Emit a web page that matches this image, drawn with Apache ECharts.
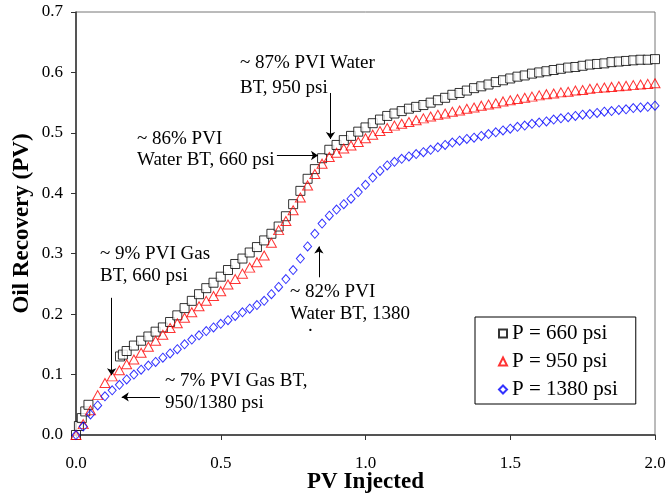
<!DOCTYPE html>
<html>
<head>
<meta charset="utf-8">
<script src="https://cdn.jsdelivr.net/npm/echarts@6/dist/echarts.min.js"></script>
<style>
  html, body { margin: 0; padding: 0; background: #fff; }
  #chart { width: 668px; height: 499px; }
</style>
</head>
<body>
<div id="chart"></div>
<script>
// Pore volumes injected shared by the 950 and 1380 psi runs
const pvGrid = [0, 0.025, 0.05, 0.075, 0.1, 0.125, 0.15, 0.175, 0.2, 0.225, 0.25, 0.275, 0.3, 0.325, 0.35, 0.375,
  0.4, 0.425, 0.45, 0.475, 0.5, 0.525, 0.55, 0.575, 0.6, 0.625, 0.65, 0.675, 0.7, 0.725, 0.75, 0.775,
  0.8, 0.825, 0.85, 0.875, 0.9, 0.925, 0.95, 0.975, 1.0, 1.025, 1.05, 1.075, 1.1, 1.125, 1.15, 1.175,
  1.2, 1.225, 1.25, 1.275, 1.3, 1.325, 1.35, 1.375, 1.4, 1.425, 1.45, 1.475, 1.5, 1.525, 1.55, 1.575,
  1.6, 1.625, 1.65, 1.675, 1.7, 1.725, 1.75, 1.775, 1.8, 1.825, 1.85, 1.875, 1.9, 1.925, 1.95, 1.975, 2.0];

// P = 660 psi (no readings between gas breakthrough and ~0.15 PV)
const pv660 = [0, 0.01, 0.02, 0.032, 0.043, 0.152, 0.162, 0.175, 0.2, 0.225, 0.25, 0.275, 0.3, 0.325, 0.35, 0.375,
  0.4, 0.425, 0.45, 0.475, 0.5, 0.525, 0.55, 0.575, 0.6, 0.625, 0.65, 0.675, 0.7, 0.725, 0.75, 0.775,
  0.8, 0.825, 0.85, 0.875, 0.9, 0.925, 0.95, 0.975, 1.0, 1.025, 1.05, 1.075, 1.1, 1.125, 1.15, 1.175,
  1.2, 1.225, 1.25, 1.275, 1.3, 1.325, 1.35, 1.375, 1.4, 1.425, 1.45, 1.475, 1.5, 1.525, 1.55, 1.575,
  1.6, 1.625, 1.65, 1.675, 1.7, 1.725, 1.75, 1.775, 1.8, 1.825, 1.85, 1.875, 1.9, 1.925, 1.95, 1.975, 2.0];
const rec660 = [0, 0.015, 0.028, 0.039, 0.050, 0.130, 0.133, 0.139, 0.148, 0.156, 0.163, 0.171, 0.178, 0.187, 0.198, 0.210,
  0.222, 0.233, 0.243, 0.252, 0.262, 0.273, 0.283, 0.292, 0.302, 0.311, 0.322, 0.333, 0.345, 0.362, 0.382, 0.404,
  0.424, 0.440, 0.458, 0.472, 0.480, 0.488, 0.495, 0.502, 0.509, 0.516, 0.522, 0.528, 0.532, 0.536, 0.540, 0.543,
  0.546, 0.550, 0.554, 0.558, 0.563, 0.566, 0.570, 0.574, 0.577, 0.580, 0.584, 0.587, 0.590, 0.593, 0.595, 0.598,
  0.600, 0.602, 0.604, 0.606, 0.608, 0.609, 0.611, 0.613, 0.614, 0.615, 0.617, 0.618, 0.619, 0.620, 0.621, 0.621, 0.622];

// P = 950 psi
const rec950 = [0, 0.018, 0.041, 0.066, 0.086, 0.097, 0.107, 0.117, 0.125, 0.136, 0.146, 0.156, 0.166, 0.177, 0.185, 0.194,
  0.203, 0.213, 0.222, 0.230, 0.238, 0.249, 0.258, 0.267, 0.277, 0.286, 0.297, 0.318, 0.339, 0.354, 0.372, 0.393,
  0.413, 0.432, 0.449, 0.460, 0.467, 0.474, 0.479, 0.485, 0.491, 0.497, 0.503, 0.508, 0.512, 0.515, 0.518, 0.521,
  0.524, 0.527, 0.530, 0.532, 0.535, 0.537, 0.540, 0.542, 0.545, 0.547, 0.549, 0.552, 0.554, 0.556, 0.558, 0.560,
  0.562, 0.564, 0.565, 0.567, 0.568, 0.570, 0.571, 0.573, 0.574, 0.575, 0.576, 0.577, 0.578, 0.579, 0.580, 0.581, 0.582];

// P = 1380 psi
const rec1380 = [0, 0.014, 0.034, 0.049, 0.064, 0.074, 0.083, 0.092, 0.100, 0.108, 0.115, 0.121, 0.128, 0.135, 0.142, 0.150,
  0.158, 0.165, 0.172, 0.178, 0.184, 0.190, 0.197, 0.203, 0.209, 0.215, 0.222, 0.233, 0.245, 0.258, 0.273, 0.292,
  0.312, 0.333, 0.350, 0.363, 0.373, 0.382, 0.391, 0.402, 0.414, 0.426, 0.437, 0.446, 0.452, 0.457, 0.461, 0.465,
  0.468, 0.472, 0.476, 0.480, 0.484, 0.487, 0.490, 0.492, 0.495, 0.498, 0.501, 0.504, 0.507, 0.510, 0.512, 0.515,
  0.517, 0.519, 0.522, 0.524, 0.526, 0.528, 0.530, 0.531, 0.533, 0.535, 0.536, 0.538, 0.539, 0.541, 0.542, 0.543, 0.545];

const seriesNames = ['P = 660 psi', 'P = 950 psi', 'P = 1380 psi'];
const xTicks = { min: 0, max: 2, step: 0.5 };
const yTicks = { min: 0, max: 0.7, step: 0.1 };

// Breakthrough notes: each line of text anchored at [PV, recovery] (left edge, vertical middle)
const noteLines = [
  ['~ 87% PVI Water', 0.5665, 0.6156],
  ['BT, 950 psi', 0.5665, 0.5742],
  ['~ 86% PVI', 0.2107, 0.4898],
  ['Water BT, 660 psi', 0.2107, 0.4551],
  ['~ 9% PVI Gas', 0.0829, 0.2995],
  ['BT, 660 psi', 0.0829, 0.2631],
  ['~ 7% PVI Gas BT,', 0.3074, 0.0894],
  ['950/1380 psi', 0.3074, 0.0530],
  ['~ 82% PVI', 0.7392, 0.2366],
  ['Water BT, 1380', 0.7392, 0.2002],
  ['.', 0.8014, 0.1804]
];
// Arrows: [from, to] in [PV, recovery]
const noteArrows = [
  [[0.123, 0.227], [0.123, 0.099]],
  [[0.290, 0.063], [0.158, 0.063]],
  [[0.694, 0.4625], [0.836, 0.4625]],
  [[0.879, 0.566], [0.879, 0.490]],
  [[0.839, 0.261], [0.839, 0.312]]
];

const FONT = '"Liberation Serif", "Times New Roman", serif';

function pairs(xs, ys) { return xs.map((x, i) => [x, ys[i]]); }

const chart = echarts.init(document.getElementById('chart'), null, { renderer: 'canvas' });

const option = {
  animation: false,
  backgroundColor: '#fff',
  grid: {
    left: 76, right: 13, top: 12, bottom: 64, containLabel: false, outerBoundsMode: 'none',
    show: true, borderColor: '#777', borderWidth: 1, backgroundColor: 'transparent'
  },
  xAxis: {
    type: 'value', min: xTicks.min, max: xTicks.max, interval: xTicks.step,
    name: 'PV Injected', nameLocation: 'middle', nameGap: 36, nameMoveOverlap: false,
    nameTextStyle: { fontFamily: FONT, fontSize: 23, fontWeight: 'bold', color: '#000' },
    axisLine: { show: true, lineStyle: { color: '#333', width: 1.5 } },
    axisTick: { show: true, inside: false, length: 5, lineStyle: { color: '#333' } },
    axisLabel: { fontFamily: FONT, fontSize: 17, color: '#000', margin: 20, formatter: v => v.toFixed(1) },
    splitLine: { show: false }
  },
  yAxis: {
    type: 'value', min: yTicks.min, max: yTicks.max, interval: yTicks.step,
    name: 'Oil Recovery (PV)', nameLocation: 'middle', nameGap: 42, nameRotate: 90, nameMoveOverlap: false,
    nameTextStyle: { fontFamily: FONT, fontSize: 23, fontWeight: 'bold', color: '#000' },
    axisLine: { show: true, lineStyle: { color: '#333', width: 1.5 } },
    axisTick: { show: true, inside: false, length: 5, lineStyle: { color: '#333' } },
    axisLabel: { fontFamily: FONT, fontSize: 17, color: '#000', margin: 13, formatter: v => v.toFixed(1) },
    splitLine: { show: false }
  },
  legend: {
    data: seriesNames,
    orient: 'vertical', left: 475, top: 317,
    backgroundColor: '#fff', borderColor: '#000', borderWidth: 1,
    padding: [6, 18, 4, 23], itemGap: 7, itemWidth: 8, itemHeight: 8,
    textStyle: { fontFamily: FONT, fontSize: 21, color: '#000', lineHeight: 21 }
  },
  series: [
    {
      name: seriesNames[0], type: 'scatter', data: pairs(pv660, rec660),
      symbol: 'rect', symbolSize: 9,
      itemStyle: { color: '#fff', borderColor: '#000', borderWidth: 1 }, z: 2
    },
    {
      name: seriesNames[1], type: 'scatter', data: pairs(pvGrid, rec950),
      symbol: 'triangle', symbolSize: [10, 9],
      itemStyle: { color: 'rgba(255,255,255,0)', borderColor: '#ff0000', borderWidth: 1 }, z: 3
    },
    {
      name: seriesNames[2], type: 'scatter', data: pairs(pvGrid, rec1380),
      symbol: 'diamond', symbolSize: [8, 9],
      itemStyle: { color: 'rgba(255,255,255,0)', borderColor: '#0000ff', borderWidth: 1 }, z: 4
    },
    {
      name: 'notes', type: 'line', data: [], silent: true,
      markLine: {
        silent: true, animation: false,
        symbol: ['none', 'arrow'], symbolSize: 7,
        lineStyle: { color: '#000', width: 1, type: 'solid' },
        itemStyle: { color: '#000' },
        label: { show: false },
        data: noteArrows.map(a => [{ coord: a[0] }, { coord: a[1] }])
      }
    }
  ]
};
chart.setOption(option);

// Note text placed at data coordinates
chart.setOption({
  graphic: noteLines.map(([txt, x, y]) => {
    const p = chart.convertToPixel({ gridIndex: 0 }, [x, y]);
    return {
      type: 'text', x: p[0], y: p[1], z: 10, silent: true,
      style: { text: txt, fill: '#000', font: '19px ' + FONT, textVerticalAlign: 'middle', verticalAlign: 'middle' }
    };
  })
});
</script>
</body>
</html>
